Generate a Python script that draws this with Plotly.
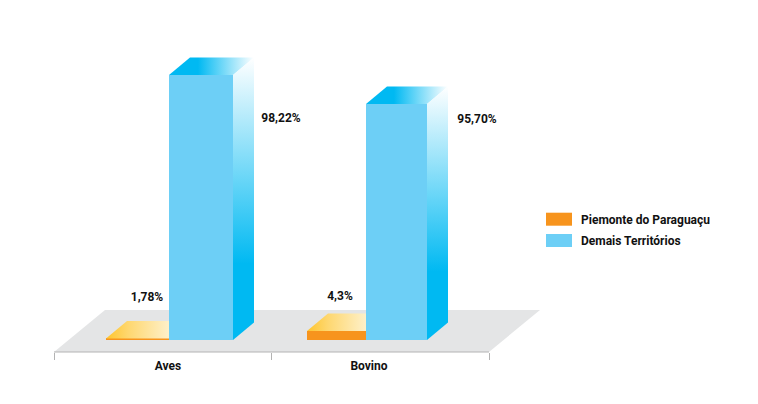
import plotly.graph_objects as go

# Data
categories = ["Aves", "Bovino"]
series_names = ["Piemonte do Paraguaçu", "Demais Territórios"]
piemonte_heights = [0.6, 3.3]      # drawn heights
demais_heights = [98.22, 87.5]
piemonte_labels = ["1,78%", "4,3%"]
demais_labels = ["98,22%", "95,70%"]

# Layout geometry (pixels of the 758x404 page)
W, H = 758, 404
X0_PX, UNIT_PX = 54, 217.5
BASE_PX, Y_PX = 340, 265 / 98.22


def ux(px):
    return (px - X0_PX) / UNIT_PX


def uy(py):
    return (BASE_PX - py) / Y_PX


blue_edges = [(169, 233), (366, 427)]
orange_edges = [(106, 169), (307, 366)]
label_x = [168, 369]
DX, DY = 21 / UNIT_PX, 17.5 / Y_PX

ORANGE, BLUE, CYAN = "#f7941d", "#6dcff6", "#00b9f2"
FONT = "Roboto"
FSIZE = 12
TXT = "#111111"

fig = go.Figure()


def face(xs, ys, grad):
    fig.add_trace(go.Scatter(
        x=xs, y=ys, mode="lines", line=dict(width=0), fill="toself",
        fillgradient=grad, showlegend=False, hoverinfo="skip"))


def edges_to_centre(edges):
    return [ux((a + b) / 2) for a, b in edges]


def edges_to_width(edges):
    return [(b - a) / UNIT_PX for a, b in edges]


fig.add_trace(go.Bar(x=edges_to_centre(orange_edges), y=piemonte_heights,
                     width=edges_to_width(orange_edges), marker=dict(color=ORANGE, line_width=0),
                     name=series_names[0], showlegend=False))
fig.add_trace(go.Bar(x=edges_to_centre(blue_edges), y=demais_heights,
                     width=edges_to_width(blue_edges), marker=dict(color=BLUE, line_width=0),
                     name=series_names[1], showlegend=False))

for (a, b), h in zip(orange_edges, piemonte_heights):
    l, r = ux(a), ux(b)
    face([l, l + DX, r, r, l], [h, h + DY, h + DY, h, h],
         dict(type="horizontal", colorscale=[[0, "#fec52e"], [0.35, "#fed76f"], [1, "#fef0c9"]]))

for (a, b), h in zip(blue_edges, demais_heights):
    l, r = ux(a), ux(b)
    # top face
    face([l, l + DX, r + DX, r, l], [h, h + DY, h + DY, h, h],
         dict(type="horizontal", colorscale=[[0, CYAN], [0.34, CYAN], [1, "#ffffff"]]))
    # side face
    face([r, r + DX, r + DX, r, r], [0, DY, h + DY, h, 0],
         dict(type="vertical", colorscale=[[0, CYAN], [0.27, CYAN], [1, "#ffffff"]]))

# value labels
lab_x = [281, 477, 147, 340]
lab_y = [119, 120, 298, 297]
fig.add_trace(go.Scatter(
    x=[ux(v) for v in lab_x], y=[uy(v) for v in lab_y], mode="text",
    text=demais_labels + piemonte_labels,
    textfont=dict(family=FONT, size=FSIZE, color=TXT, weight="bold"),
    showlegend=False, hoverinfo="skip"))

floor_y, floor_back = uy(352), uy(310)
shapes = [
    dict(type="path", xref="x", yref="y", layer="below", line_width=0, fillcolor="#e4e5e6",
         path=f"M{ux(54)},{floor_y} L{ux(489)},{floor_y} L{ux(540)},{floor_back} L{ux(105)},{floor_back} Z"),
    dict(type="line", xref="x", yref="y", x0=ux(54), x1=ux(489), y0=floor_y, y1=floor_y,
         line=dict(color="#b3b3b3", width=1.2)),
]

# legend swatches and names
swatch_y = [219.2, 240.5]
leg_y = [220, 241]
for c, sy, py, name in zip([ORANGE, BLUE], swatch_y, leg_y, series_names):
    shapes.append(dict(type="rect", xref="paper", yref="paper", line_width=0, fillcolor=c,
                       x0=546 / W, x1=572 / W, y0=1 - (sy + 6.5) / H, y1=1 - (sy - 6.5) / H))
    fig.add_annotation(xref="paper", yref="paper", x=578.5 / W, y=1 - py / H, text=name, showarrow=False,
                       xanchor="left", yanchor="middle",
                       font=dict(family=FONT, size=FSIZE, color=TXT, weight="bold"))

fig.update_layout(
    width=W, height=H, margin=dict(l=0, r=0, t=0, b=0), barmode="overlay",
    paper_bgcolor="white", plot_bgcolor="white", showlegend=False, shapes=shapes,
    xaxis=dict(range=[ux(0), ux(W)], domain=[0, 1], anchor="free", position=1 - 352 / H,
               tickvals=[ux(v) for v in label_x], ticktext=categories, ticks="outside", ticklen=3,
               tickcolor="rgba(0,0,0,0)",
               tickfont=dict(family=FONT, size=FSIZE, color=TXT, weight="bold"),
               minor=dict(tickvals=[0, 1, 2], ticks="outside", ticklen=7, tickcolor="#b3b3b3", tickwidth=1),
               showgrid=False, zeroline=False, showline=False),
    yaxis=dict(range=[uy(H), uy(0)], domain=[0, 1], visible=False, showgrid=False, zeroline=False),
)
fig.write_html("out.html", config=dict(displayModeBar=False),
               post_script="document.body.style.margin='0';")
